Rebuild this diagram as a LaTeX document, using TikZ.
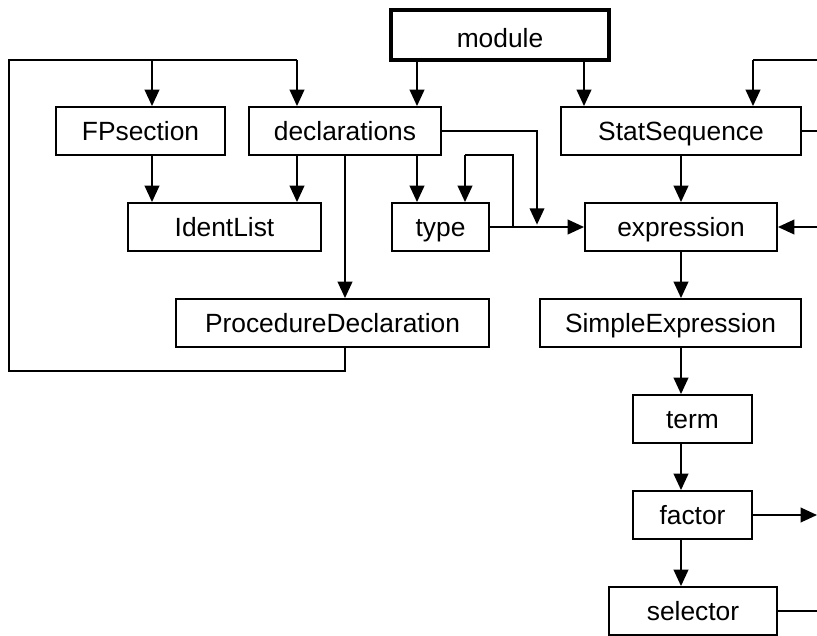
\documentclass[tikz,border=0pt]{standalone}
\usepackage{fontspec}
\setmainfont{Liberation Sans}
\usetikzlibrary{arrows.meta}

\begin{document}
\begin{tikzpicture}[x=0.03cm,y=-0.03cm,
  box/.style={draw,line width=1.6pt,minimum height=1.44cm,inner sep=0pt,
    text height=18pt,text depth=2pt,font=\fontsize{22.5}{26}\selectfont},
  link/.style={line width=1.6pt},
  arr/.style={link,-{Triangle[length=14pt,width=12.5pt]}}]
\useasboundingbox (0,0) rectangle (817,635);
% boxes
\node[box,line width=3.4pt,minimum width=6.54cm,minimum height=1.5cm,
  text height=21pt,text depth=0pt] (mod) at (500,35) {module};
\node[box,minimum width=5.07cm] (fpsec) at (140.5,131) {FPsection};
\node[box,minimum width=5.76cm] (decl) at (345,131) {declarations};
\node[box,minimum width=7.2cm] (stat) at (681,131) {StatSequence};
\node[box,minimum width=5.79cm] (ident) at (224.5,227) {IdentList};
\node[box,minimum width=2.91cm] (typ) at (440.5,227) {type};
\node[box,minimum width=5.76cm] (expr) at (681,227) {expression};
\node[box,minimum width=9.39cm] (proc) at (332.5,323) {ProcedureDeclaration};
\node[box,minimum width=7.83cm] (simple) at (670.5,323) {SimpleExpression};
\node[box,minimum width=3.57cm] (term) at (692.5,419) {term};
\node[box,minimum width=3.57cm] (factor) at (692.5,515) {factor};
\node[box,minimum width=5.04cm] (select) at (693,611) {selector};
% columns and free ends
\coordinate (xa) at (152,0);
\coordinate (xb) at (297,0);
\coordinate (xc) at (417,0);
\coordinate (xd) at (584,0);
\coordinate (xe) at (681,0);
\coordinate (loopT) at (9,60);
\coordinate (loopB) at (9,371);
\coordinate (tyR) at (513,155);
\coordinate (tyL) at (465,155);
\coordinate (dJ) at (537,131);
\coordinate (sT) at (753,60);
\coordinate (eT) at (817,60);
\coordinate (eS) at (817,131);
\coordinate (eE) at (817,227);
\coordinate (eF) at (817,515);
\coordinate (eL) at (817,611);
% links
\draw[link] (proc.south -| decl.south) |- (loopB) -- (loopT) -- (loopT -| xb);
\draw[arr] (loopT -| xa) -- (fpsec.north -| xa);
\draw[arr] (loopT -| xb) -- (decl.north -| xb);
\draw[arr] (mod.south -| xc) -- (decl.north -| xc);
\draw[arr] (mod.south -| xd) -- (stat.north -| xd);
\draw[arr] (fpsec.south -| xa) -- (ident.north -| xa);
\draw[arr] (decl.south -| xb) -- (ident.north -| xb);
\draw[arr] (decl.south) -- (proc.north -| decl.south);
\draw[arr] (decl.south -| xc) -- (typ.north -| xc);
\draw[link] (typ.east) -| (tyR) -- (tyL);
\draw[arr] (tyL) -- (typ.north -| tyL);
\draw[arr] (decl.east |- dJ) -| ([yshift=2pt]typ.east -| dJ);
\draw[arr] (typ.east) -- (expr.west);
\draw[arr] (stat.south -| xe) -- (expr.north -| xe);
\draw[arr] (eE) -- (expr.east);
\draw[link] (stat.east) -- (eS);
\draw[link] (eT) -- (sT);
\draw[arr] (sT) -- (stat.north -| sT);
\draw[arr] (expr.south -| xe) -- (simple.north -| xe);
\draw[arr] (simple.south -| xe) -- (term.north -| xe);
\draw[arr] (term.south -| xe) -- (factor.north -| xe);
\draw[arr] (factor.south -| xe) -- (select.north -| xe);
\draw[arr] (factor.east) -- (eF);
\draw[link] (select.east) -- (eL);
\end{tikzpicture}
\end{document}
